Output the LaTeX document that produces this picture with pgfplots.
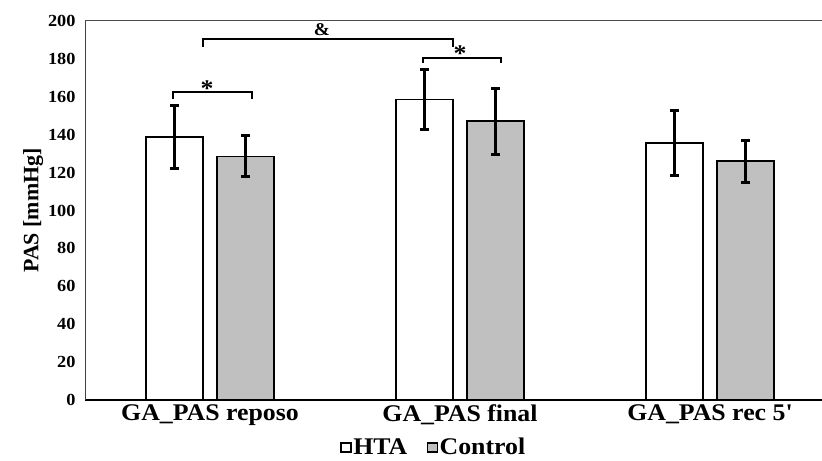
\documentclass[border=0pt]{standalone}
\usepackage{pgfplots}
\pgfplotsset{compat=1.18}
\usepackage{fontspec}
\setmainfont{Liberation Serif}[FakeStretch=1.08]
\newfontfamily\plainfont{Liberation Serif}[FakeStretch=1.08]
\newfontfamily\ylfont{Liberation Serif}
\definecolor{cgrey}{HTML}{C0C0C0}
\begin{document}
\begin{tikzpicture}[x=1bp,y=1bp]
\begin{axis}[
  at={(0,0)}, anchor=south west,
  width=737bp, height=379bp, scale only axis,
  xmin=-0.5, xmax=2.448, ymin=0, ymax=200,
  ytick={0,20,...,200},
  xtick={0,1,2},
  xticklabels={GA\_PAS reposo, GA\_PAS final, GA\_PAS rec 5'},
  major tick length=0pt,
  axis lines*=left,
  x axis line style={black, line width=1.2bp},
  y axis line style={black!75, line width=1bp},
  /pgf/number format/assume math mode=true,
  yticklabel style={font=\fontsize{17}{19}\selectfont\bfseries, xshift=-6bp},
  xticklabel style={font=\plainfont\fontsize{24}{26}\selectfont\bfseries, yshift=-1bp},
  ylabel={PAS [mmHg]},
  ylabel style={font=\ylfont\fontsize{22}{24}\selectfont\bfseries, yshift=-2bp},
  ybar=14bp, bar width=57bp,
  clip=false,
  legend style={at={(0.473,-0.125)}, anchor=center, draw=none, fill=none,
    legend columns=2, font=\fontsize{24}{26}\selectfont\bfseries,
    nodes={inner sep=1.5bp},
    /tikz/every even column/.append style={column sep=18bp},
    legend cell align=left, inner sep=0pt, row sep=0pt},
  legend image code/.code={\draw[draw=black, line width=1.3bp, #1] (0bp,-4.5bp) rectangle (10bp,4.5bp);},
]
\addplot+[fill=white, draw=black, line width=1.5bp,
  error bars/.cd, y dir=both, y explicit,
  error bar style={line width=3bp, black},
  error mark options={rotate=90, mark size=4.2bp, line width=3bp, black}]
  coordinates {(0,138.8) +- (0,16.4) (1,158.6) +- (0,15.8) (2,135.6) +- (0,17.2)};
\addplot+[fill=cgrey, draw=black, line width=1.5bp,
  error bars/.cd, y dir=both, y explicit,
  error bar style={line width=3bp, black},
  error mark options={rotate=90, mark size=4.2bp, line width=3bp, black}]
  coordinates {(0,128.6) +- (0,10.8) (1,147.2) +- (0,17.4) (2,126) +- (0,11)};
\legend{HTA, Control}
\draw[black!70, line width=1bp] (rel axis cs:0,1) -- (rel axis cs:1,1);
% significance brackets
\draw[black, line width=2.5bp] (axis cs:-0.148,158.8) -- (axis cs:-0.148,162.5) -- (axis cs:0.168,162.5) -- (axis cs:0.168,158.8);
\draw[black, line width=2.5bp] (axis cs:-0.028,186.5) -- (axis cs:-0.028,190.5) -- (axis cs:0.972,190.5) -- (axis cs:0.972,186.5);
\draw[black, line width=2.5bp] (axis cs:0.852,177.8) -- (axis cs:0.852,180.5) -- (axis cs:1.164,180.5) -- (axis cs:1.164,177.8);
\node[font=\fontsize{24}{26}\selectfont\bfseries, inner sep=0pt] at (axis cs:-0.012,164.5) {*};
\node[font=\fontsize{24}{26}\selectfont\bfseries, inner sep=0pt] at (axis cs:1.0,183) {*};
\node[font=\fontsize{18}{20}\selectfont\bfseries, inner sep=0pt] at (axis cs:0.448,195.5) {\&};
\end{axis}
\pgfresetboundingbox
\useasboundingbox (-85,-61) rectangle (737,400);
\end{tikzpicture}
\end{document}
